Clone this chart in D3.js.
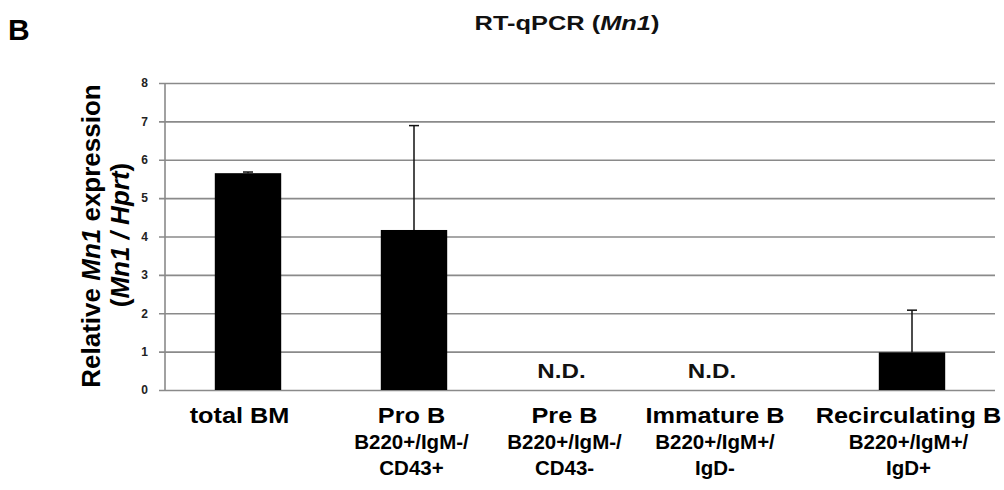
<!DOCTYPE html>
<html><head><meta charset="utf-8">
<script src="https://cdn.jsdelivr.net/npm/d3@7"></script>
<style>
html,body{margin:0;padding:0;background:#fff;}
svg{display:block;font-family:"Liberation Sans",Arial,sans-serif;font-weight:bold;}
</style></head>
<body>
<svg id="chart" width="1004" height="490"></svg>
<script>
// ---- data ----
const categories = ["total BM", "Pro B", "Pre B", "Immature B", "Recirculating B"];
const subLabels = [[], ["B220+/IgM-/", "CD43+"], ["B220+/IgM-/", "CD43-"], ["B220+/IgM+/", "IgD-"], ["B220+/IgM+/", "IgD+"]];
const values = [5.65, 4.17, null, null, 0.98];
const errors = [0.03, 2.72, null, null, 1.10];
const ndLabel = "N.D.";
const yTicks = [0, 1, 2, 3, 4, 5, 6, 7, 8];

// ---- layout ----
const svg = d3.select("#chart");
const plotL = 165, plotR = 995, plotT = 83, plotB = 390;
const labelShift = [-8.5, -2.5, -15.5, -31, -3.5];

const x = d3.scaleBand().domain(categories).range([plotL, plotR]).paddingInner(0.6).paddingOuter(0.3);
const y = d3.scaleLinear().domain([0, 8]).range([plotB, plotT]);

// panel letter
svg.append("text").attr("x", 8).attr("y", 40).attr("font-size", 30).attr("fill", "#000").text("B");

// title
const title = svg.append("text").attr("x", 567).attr("y", 30).attr("text-anchor", "middle")
  .attr("font-size", 20).attr("fill", "#111")
  .attr("transform", "translate(567,0) scale(1.27,1) translate(-567,0)");
title.append("tspan").text("RT-qPCR (");
title.append("tspan").attr("font-style", "italic").text("Mn1");
title.append("tspan").text(")");

// gridlines + y axis
const yAxis = d3.axisLeft(y).tickValues(yTicks).tickSize(plotR - plotL + 6).tickFormat(d3.format("d")).tickPadding(11);
const gAxis = svg.append("g").attr("transform", `translate(${plotR},0)`).call(yAxis);
gAxis.select(".domain").remove();
gAxis.selectAll(".tick line").attr("stroke", "#8a8a8a").attr("stroke-width", 1.6);
gAxis.selectAll(".tick text").attr("font-size", 12).attr("font-weight", "bold").attr("fill", "#222")
  .attr("font-family", "Liberation Sans, Arial, sans-serif");
svg.append("line").attr("x1", plotL).attr("x2", plotL).attr("y1", y(8)).attr("y2", y(0))
  .attr("stroke", "#8a8a8a").attr("stroke-width", 1.6);

// bars
const data = categories.map((c, i) => ({c, v: values[i], e: errors[i], i}));
svg.append("g").selectAll("rect").data(data.filter(d => d.v != null)).join("rect")
  .attr("x", d => x(d.c)).attr("width", x.bandwidth())
  .attr("y", d => y(d.v)).attr("height", d => y(0) - y(d.v))
  .attr("fill", "#000");

// error bars
const eb = svg.append("g").attr("stroke", "#111").attr("stroke-width", 1.5);
data.filter(d => d.v != null && d.e != null).forEach(d => {
  const cx = x(d.c) + x.bandwidth() / 2;
  eb.append("line").attr("x1", cx).attr("x2", cx).attr("y1", y(d.v)).attr("y2", y(d.v + d.e));
  eb.append("line").attr("x1", cx - 5).attr("x2", cx + 5).attr("y1", y(d.v + d.e)).attr("y2", y(d.v + d.e));
});

// N.D. labels
svg.append("g").selectAll("text").data(data.filter(d => d.v == null)).join("text")
  .each(function(d) {
    const cx = x(d.c) + x.bandwidth() / 2 + labelShift[d.i] - 3;
    d3.select(this).attr("x", cx).attr("y", 378)
      .attr("transform", `translate(${cx},0) scale(1.15,1) translate(${-cx},0)`);
  })
  .attr("text-anchor", "middle").attr("font-size", 21).attr("fill", "#111")
  .text(ndLabel);

// category labels
const lab = svg.append("g").attr("fill", "#000");
data.forEach(d => {
  const cx = x(d.c) + x.bandwidth() / 2 + labelShift[d.i];
  lab.append("text").attr("x", cx).attr("y", 423).attr("text-anchor", "middle")
    .attr("font-size", 22).attr("transform", `translate(${cx},0) scale(1.15,1) translate(${-cx},0)`).text(d.c);
  subLabels[d.i].forEach((s, k) => {
    lab.append("text").attr("x", cx).attr("y", 449 + k * 26).attr("text-anchor", "middle")
      .attr("font-size", 20.5).text(s);
  });
});

// y axis label
const yl = svg.append("g").attr("fill", "#000").attr("font-size", 26);
const l1 = yl.append("text").attr("transform", "translate(100,236) rotate(-90)").attr("text-anchor", "middle");
l1.append("tspan").text("Relative ");
l1.append("tspan").attr("font-style", "italic").text("Mn1");
l1.append("tspan").text(" expression");
const l2 = yl.append("text").attr("transform", "translate(129,235) rotate(-90)").attr("text-anchor", "middle");
l2.append("tspan").text("(");
l2.append("tspan").attr("font-style", "italic").text("Mn1 / Hprt");
l2.append("tspan").text(")");
</script>
</body></html>
